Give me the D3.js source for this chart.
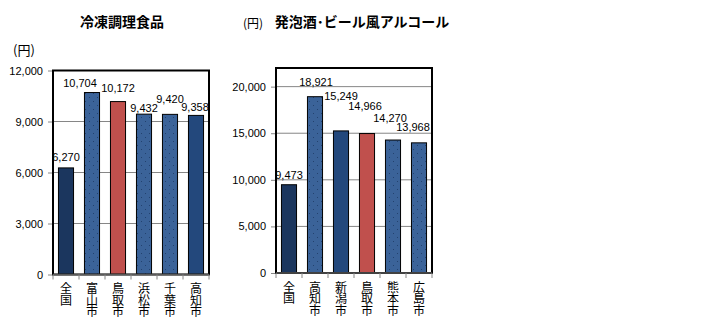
<!DOCTYPE html>
<html>
<head>
<meta charset="utf-8">
<script src="https://cdn.jsdelivr.net/npm/d3@7/dist/d3.min.js"></script>
<style>
  body { margin: 0; background: #fff; }
  text { font-family: "Liberation Sans", "Noto Sans CJK JP", sans-serif; }
  .jp { font-family: "Noto Sans CJK JP", sans-serif; }
  .vert { writing-mode: vertical-rl; text-orientation: upright; }
</style>
</head>
<body>
<div id="chart"></div>
<script>
// chart 1 data
var cats1 = ["全国", "富山市", "鳥取市", "浜松市", "千葉市", "高知市"];
var vals1 = [6270, 10704, 10172, 9432, 9420, 9358];
var ticks1 = [0, 3000, 6000, 9000, 12000];

// chart 2 data
var cats2 = ["全国", "高知市", "新潟市", "鳥取市", "熊本市", "広島市"];
var vals2 = [9473, 18921, 15249, 14966, 14270, 13968];
var ticks2 = [0, 5000, 10000, 15000, 20000];

// bar looks (kept apart from the values)
var looks1 = ["nat", "dot", "red", "dot", "dot", "solid"];
var looks2 = ["nat", "dot", "solid", "red", "dot", "dot"];

// label placement nudges, as Excel had them dragged around
var lift1 = [11, 9, 13, 6, 15, 8];
var shift1 = [0, -12, 0, 0, 0, -1];
var lift2 = [10, 15, 35, 27, 22, 16];
var shift2 = [0, 1, 0, -2, -3, -6];

var svg = d3.select("#chart").append("svg")
    .attr("width", 710)
    .attr("height", 324);

var defs = svg.append("defs");
var pat = defs.append("pattern")
    .attr("id", "dots")
    .attr("width", 8)
    .attr("height", 8)
    .attr("patternUnits", "userSpaceOnUse");
pat.append("rect").attr("width", 8).attr("height", 8).attr("fill", "#3b6399");
pat.append("rect").attr("x", 1).attr("y", 1).attr("width", 1).attr("height", 1).attr("fill", "#23426f");
pat.append("rect").attr("x", 5).attr("y", 5).attr("width", 1).attr("height", 1).attr("fill", "#23426f");

var fillFor = {
    nat: "#1b365e",
    dot: "url(#dots)",
    red: "#c0504d",
    solid: "#23487c"
};

function drawChart(opt) {
    var x = d3.scaleBand()
        .domain(opt.cats)
        .range([opt.left, opt.right])
        .paddingInner(0.42)
        .paddingOuter(0.21);

    var y = d3.scaleLinear()
        .domain([0, opt.max])
        .range([opt.bottom, opt.top]);

    var g = svg.append("g");

    // gridlines
    g.selectAll(".grid")
        .data(opt.ticks.filter(d => d > 0))
        .enter()
        .append("line")
        .attr("x1", opt.left)
        .attr("x2", opt.right)
        .attr("y1", d => y(d))
        .attr("y2", d => y(d))
        .attr("stroke", "#868686")
        .attr("stroke-width", 1);

    // y axis
    var leftAxis = d3.axisLeft(y)
        .tickValues(opt.ticks)
        .tickSize(5)
        .tickPadding(5)
        .tickFormat(d3.format(","));
    var ya = g.append("g")
        .attr("transform", `translate(${opt.left},0)`)
        .call(leftAxis);
    ya.select(".domain").remove();
    ya.selectAll("line").attr("stroke", "#868686");
    ya.selectAll("text")
        .attr("fill", "#000")
        .style("font-size", "11px")
        .style("font-family", "'Liberation Sans', sans-serif");

    // bars
    g.selectAll(".bar")
        .data(opt.vals)
        .enter()
        .append("rect")
        .attr("x", (d, i) => x(opt.cats[i]))
        .attr("y", d => y(d))
        .attr("width", x.bandwidth())
        .attr("height", d => opt.bottom - y(d))
        .attr("fill", (d, i) => fillFor[opt.looks[i]])
        .attr("stroke", "#000")
        .attr("stroke-width", 1);

    // value labels
    g.selectAll(".lbl")
        .data(opt.vals)
        .enter()
        .append("text")
        .attr("x", (d, i) => x(opt.cats[i]) + x.bandwidth() / 2 + opt.shift[i])
        .attr("y", (d, i) => y(d) - opt.lift[i])
        .attr("dy", "0.35em")
        .attr("text-anchor", "middle")
        .style("font-size", "11px")
        .attr("fill", "#000")
        .text(d => d3.format(",")(d));

    // frame
    g.append("rect")
        .attr("x", opt.left)
        .attr("y", opt.top)
        .attr("width", opt.right - opt.left)
        .attr("height", opt.bottom - opt.top)
        .attr("fill", "none")
        .attr("stroke", "#000")
        .attr("stroke-width", 2);

    // bottom axis line and tick marks at the band edges
    var step = x.step();
    var edges = d3.range(opt.cats.length + 1).map(i => opt.left + i * step);
    g.append("line")
        .attr("x1", opt.left)
        .attr("x2", opt.right)
        .attr("y1", opt.bottom)
        .attr("y2", opt.bottom)
        .attr("stroke", "#595959")
        .attr("stroke-width", 1.5);
    g.selectAll(".xtick")
        .data(edges)
        .enter()
        .append("line")
        .attr("x1", d => d)
        .attr("x2", d => d)
        .attr("y1", opt.bottom)
        .attr("y2", opt.bottom + 5)
        .attr("stroke", "#868686");

    // vertical category labels, written top to bottom
    g.selectAll(".cat")
        .data(opt.cats)
        .enter()
        .append("text")
        .attr("class", "jp vert")
        .attr("x", d => x(d) + x.bandwidth() / 2)
        .attr("y", opt.bottom + 8)
        .style("font-size", "12px")
        .style("letter-spacing", "-0.4px")
        .attr("fill", "#000")
        .text(d => d);

    // title
    g.append("text")
        .attr("class", "jp")
        .attr("x", opt.titleX)
        .attr("y", 27)
        .attr("text-anchor", "middle")
        .style("font-size", "14px")
        .style("font-weight", "bold")
        .text(opt.title);

    // unit
    g.append("text")
        .attr("class", "jp")
        .attr("x", opt.unitX)
        .attr("y", opt.unitY)
        .attr("text-anchor", "middle")
        .style("font-size", opt.unitSize)
        .text("(円)");
}

drawChart({
    cats: cats1, vals: vals1, ticks: ticks1, looks: looks1,
    lift: lift1, shift: shift1,
    max: 12000, left: 53, right: 209, top: 70.5, bottom: 274.5,
    title: "冷凍調理食品", titleX: 122,
    unitX: 24, unitY: 55, unitSize: "13px"
});

drawChart({
    cats: cats2, vals: vals2, ticks: ticks2, looks: looks2,
    lift: lift2, shift: shift2,
    max: 22000, left: 276, right: 432, top: 68, bottom: 273,
    title: "発泡酒･ビール風アルコール", titleX: 362,
    unitX: 253, unitY: 28, unitSize: "12px"
});
</script>
</body>
</html>
